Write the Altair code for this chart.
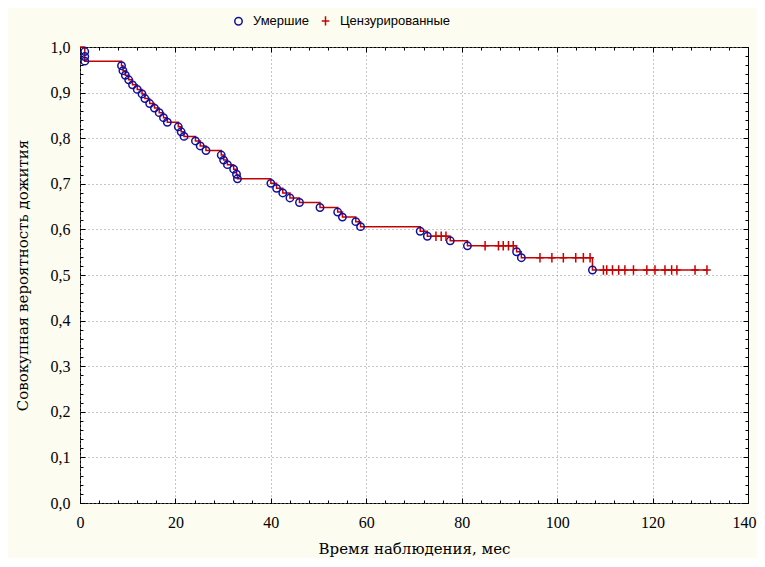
import altair as alt
import pandas as pd

# ---- data (Kaplan-Meier curve) ----
death_t = [1.0, 1.0, 1.0,
           8.7, 9.0, 9.5, 10.2, 11.0, 12.0, 13.0, 13.6, 14.6, 15.6, 16.6, 17.5, 18.3,
           20.6, 21.2, 21.8,
           24.2, 25.2, 26.4,
           29.6, 30.1, 30.9,
           32.2, 32.8, 33.0,
           40.0, 41.2, 42.5, 44.0, 46.0,
           50.3, 54.0, 55.0, 57.8, 58.8,
           71.3, 72.8, 77.6, 81.2, 91.5, 92.5, 107.4]
death_s = [0.990, 0.979, 0.969,
           0.959, 0.948, 0.938, 0.928, 0.917, 0.907, 0.897, 0.887, 0.876, 0.866, 0.856, 0.845, 0.835,
           0.825, 0.814, 0.804,
           0.794, 0.783, 0.773,
           0.763, 0.752, 0.742,
           0.732, 0.721, 0.711,
           0.701, 0.690, 0.680, 0.669, 0.659,
           0.648, 0.638, 0.627, 0.617, 0.606,
           0.596, 0.585, 0.575, 0.564, 0.551, 0.538, 0.511]
censor_t = [74.6, 75.7, 76.7,
            84.9, 87.7, 88.7, 89.8, 90.8,
            96.4, 98.9, 101.3, 103.9, 105.5, 106.9,
            109.7, 110.4, 111.6, 112.9, 114.2, 116.0, 118.8, 120.5, 122.6, 124.0, 125.1, 128.9, 131.4]
censor_s = [0.585, 0.585, 0.585,
            0.564, 0.564, 0.564, 0.564, 0.564,
            0.538, 0.538, 0.538, 0.538, 0.538, 0.538,
            0.511, 0.511, 0.511, 0.511, 0.511, 0.511, 0.511, 0.511, 0.511, 0.511, 0.511, 0.511, 0.511]
types = ["Умершие", "Цензурированные"]
x_labels_inner = [0, 20, 40, 60, 80, 100, 120]
x_label_last = [140]
x_major = [0, 20, 40, 60, 80, 100, 120, 140]
x_minor = list(range(0, 141, 4))
y_major = [0.0, 0.1, 0.2, 0.3, 0.4, 0.5, 0.6, 0.7, 0.8, 0.9, 1.0]
y_minor = [round(i * 0.02, 2) for i in range(51)]

BLUE = "#1010A0"
RED = "#C80000"
BG = "#FCFCF0"
CROSS = "M-0.8,0H0.8M0,-1V1"
TITLE_FONT = "DejaVu Serif"
LABEL_FONT = "Liberation Serif"

# step line table
line_t = [0.0] + death_t + [censor_t[-1]]
line_s = [1.0] + death_s + [censor_s[-1]]
line_df = pd.DataFrame({"t": line_t, "s": line_s, "i": list(range(len(line_t)))})

pts_df = pd.concat([
    pd.DataFrame({"t": death_t, "s": death_s, "type": types[0]}),
    pd.DataFrame({"t": censor_t, "s": censor_s, "type": types[1]}),
], ignore_index=True)

XS = alt.Scale(domain=[0, 140], nice=False, zero=False)
YS = alt.Scale(domain=[0, 1], nice=False)

line = alt.Chart(line_df).mark_line(interpolate="step-after", color=RED, strokeWidth=1.5).encode(
    x=alt.X("t:Q", scale=XS, axis=alt.Axis(
        orient="bottom",
        values=x_labels_inner, format="d", grid=True, gridDash=[1, 3], gridColor="#8c8c8c",
        ticks=False, domain=False, labelFont=LABEL_FONT, labelFontSize=16, labelFlush=False,
        labelColor="black", labelPadding=11, title="Время наблюдения, мес",
        titleFont=TITLE_FONT, titleFontSize=15, titleFontWeight="normal",
        titleColor="black", titlePadding=11)),
    y=alt.Y("s:Q", scale=YS, axis=alt.Axis(
        orient="left",
        values=y_major, labelExpr="replace(format(datum.value, '.1f'), '.', ',')",
        grid=True, gridDash=[1, 3], gridColor="#8c8c8c", ticks=False, domain=False,
        labelFont=LABEL_FONT, labelFontSize=16, labelColor="black", labelPadding=10,
        labelFlush=False,
        title="Совокупная вероятность дожития", titleFont=TITLE_FONT, titleFontSize=15,
        titleFontWeight="normal", titleColor="black", titlePadding=20)),
    order="i:Q",
)

# last x label, pushed flush toward the right edge
last_label = alt.Chart(line_df).mark_point(opacity=0).encode(
    x=alt.X("t:Q", scale=XS, title=None, axis=alt.Axis(
        orient="bottom", values=x_label_last, format="d", grid=False, ticks=False,
        domain=False, labelFont=LABEL_FONT, labelFontSize=16, labelColor="black",
        labelPadding=11, labelFlush=True, labelFlushOffset=8)),
    y=alt.Y("s:Q", scale=YS, axis=None),
)

leg = alt.Legend(orient="none", legendX=152, legendY=-33, direction="horizontal", title=None,
                 labelFont="Liberation Sans", labelFontSize=13, labelColor="black",
                 symbolSize=40, symbolStrokeWidth=1.5, columnPadding=9, labelOffset=8,
                 padding=0)

points = alt.Chart(pts_df).mark_point(filled=False, strokeWidth=1.5, opacity=1).encode(
    x=alt.X("t:Q", scale=XS, axis=None),
    y=alt.Y("s:Q", scale=YS, axis=None),
    color=alt.Color("type:N", scale=alt.Scale(domain=types, range=[BLUE, RED]), legend=leg),
    shape=alt.Shape("type:N", scale=alt.Scale(domain=types, range=["circle", CROSS]), legend=leg),
    size=alt.Size("type:N", scale=alt.Scale(domain=types, range=[55, 90]), legend=None),
)


def tick_layer(xorient, yorient, xvals, yvals, size):
    return alt.Chart(line_df).mark_point(opacity=0).encode(
        x=alt.X("t:Q", scale=XS, title=None, axis=alt.Axis(
            orient=xorient, values=xvals, labels=False, grid=False, domain=False,
            ticks=True, tickSize=size, offset=-size, tickColor="black", tickWidth=1)),
        y=alt.Y("s:Q", scale=YS, title=None, axis=alt.Axis(
            orient=yorient, values=yvals, labels=False, grid=False, domain=False,
            ticks=True, tickSize=size, offset=-size, tickColor="black", tickWidth=1)),
    )


t1 = tick_layer("bottom", "left", x_major, y_major, 5)
t2 = tick_layer("top", "right", x_major, y_major, 5)
t3 = tick_layer("bottom", "left", x_minor, y_minor, 3)
t4 = tick_layer("top", "right", x_minor, y_minor, 3)

chart = alt.layer(line, points, last_label, t1, t2, t3, t4).resolve_axis(
    x="independent", y="independent"
).properties(
    width=668, height=456,
    padding={"left": 72, "top": 39, "right": 9, "bottom": 55},
    autosize=alt.AutoSizeParams(type="none"),
    background=BG,
).configure_view(stroke="black", strokeWidth=1, fill="white")

chart.save("out.html", embed_options={"renderer": "svg", "actions": False})
